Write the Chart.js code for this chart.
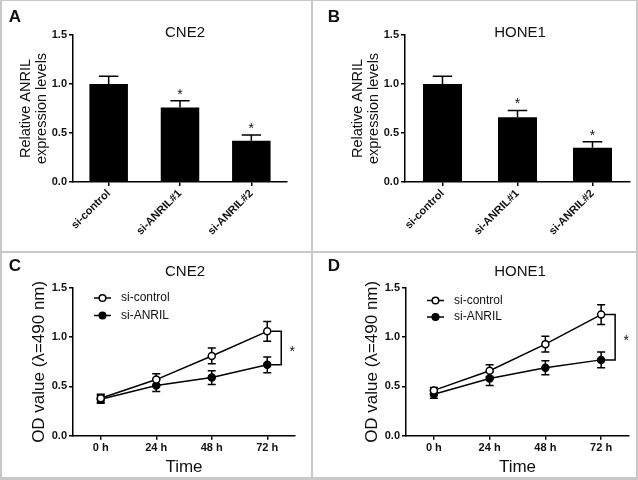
<!DOCTYPE html>
<html>
<head>
<meta charset="utf-8">
<script src="https://cdn.jsdelivr.net/npm/chart.js@4.4.1/dist/chart.umd.min.js"></script>
<style>
body { margin: 0; background: #fff; }
#fig { position: relative; width: 638px; height: 480px; background: #fff; overflow: hidden; }
#fig canvas { position: absolute; }
.rule { position: absolute; background: #c8c8c8; z-index: 2; }
</style>
</head>
<body>
<div id="fig">
  <canvas id="chartA" width="312" height="252" style="left:0;top:0"></canvas>
  <canvas id="chartB" width="325" height="252" style="left:313px;top:0"></canvas>
  <canvas id="chartC" width="312" height="227" style="left:0;top:253px"></canvas>
  <canvas id="chartD" width="325" height="227" style="left:313px;top:253px"></canvas>
  <div class="rule" style="left:0;top:0;width:638px;height:1px"></div>
  <div class="rule" style="left:0;top:0;width:2px;height:480px"></div>
  <div class="rule" style="left:636px;top:0;width:2px;height:480px"></div>
  <div class="rule" style="left:0;top:477px;width:638px;height:3px"></div>
  <div class="rule" style="left:311px;top:0;width:2px;height:480px"></div>
  <div class="rule" style="left:0;top:251px;width:638px;height:2px"></div>
</div>
<script>
// bar panels (A, B)
const barLabels = ['si-control', 'si-ANRIL#1', 'si-ANRIL#2'];
const cne2Bar = [1.00, 0.76, 0.42];
const cne2BarErr = [0.08, 0.07, 0.06];
const cne2BarSig = ['', '*', '*'];
const hone1Bar = [1.00, 0.66, 0.35];
const hone1BarErr = [0.08, 0.07, 0.06];
const hone1BarSig = ['', '*', '*'];

// growth panels (C, D)
const timeLabels = ['0 h', '24 h', '48 h', '72 h'];
const seriesNames = ['si-control', 'si-ANRIL'];
const cne2Control = [0.38, 0.57, 0.81, 1.06];
const cne2ControlErr = [0.04, 0.06, 0.08, 0.10];
const cne2Anril = [0.37, 0.51, 0.59, 0.72];
const cne2AnrilErr = [0.04, 0.06, 0.07, 0.08];
const hone1Control = [0.46, 0.66, 0.93, 1.23];
const hone1ControlErr = [0.03, 0.06, 0.08, 0.10];
const hone1Anril = [0.42, 0.58, 0.69, 0.77];
const hone1AnrilErr = [0.04, 0.07, 0.07, 0.08];

const yTickValues = [0, 0.5, 1.0, 1.5];

const FONT = '"Liberation Sans", Arial, sans-serif';
const INK = '#111';

function yScale(title, size, pad, width) {
    return {
        min: 0,
        max: 1.5,
        afterBuildTicks: s => { s.ticks = yTickValues.map(v => ({ value: v })); },
        afterFit: s => { s.width = width; },
        border: { color: '#000', width: 1.5 },
        grid: { drawOnChartArea: false, color: '#000', lineWidth: 1.5, tickLength: 4 },
        ticks: { color: INK, padding: 2, font: { family: FONT, size: 11, weight: 'bold' }, callback: v => v.toFixed(1) },
        title: { display: true, text: title, color: INK, font: { family: FONT, size: size, lineHeight: 1.07 }, padding: { top: pad, bottom: 0 } }
    };
}

function xScale(height, extra) {
    return Object.assign({
        offset: true,
        afterFit: s => { s.height = height; },
        border: { color: '#000', width: 1.5 },
        grid: { drawOnChartArea: false, offset: false, color: '#000', lineWidth: 1.5, tickLength: 4 }
    }, extra);
}

// panel letter + title
function panelText(p) {
    return {
        id: 'panelText',
        afterDraw(chart) {
            const c = chart.ctx;
            c.save();
            c.fillStyle = INK;
            c.textBaseline = 'middle';
            c.textAlign = 'center';
            c.font = 'bold 17px ' + FONT;
            c.fillText(p.letter, p.letterX, p.letterY);
            c.font = '15px ' + FONT;
            c.fillText(p.title, p.titleX, p.titleY);
            c.restore();
        }
    };
}

function makeBarChart(id, values, errs, sig, p) {
    const errPlugin = {
        id: 'barErr',
        afterDatasetsDraw(chart) {
            const c = chart.ctx;
            const y = chart.scales.y;
            const meta = chart.getDatasetMeta(0);
            c.save();
            c.strokeStyle = '#000';
            c.lineWidth = 1.5;
            meta.data.forEach((bar, i) => {
                const top = y.getPixelForValue(values[i] + errs[i]);
                const half = bar.width / 4;
                c.beginPath();
                c.moveTo(bar.x, bar.y);
                c.lineTo(bar.x, top);
                c.moveTo(bar.x - half, top);
                c.lineTo(bar.x + half, top);
                c.stroke();
                if (sig[i]) {
                    c.fillStyle = INK;
                    c.font = '14px ' + FONT;
                    c.textAlign = 'center';
                    c.textBaseline = 'alphabetic';
                    c.fillText(sig[i], bar.x, top - 2);
                }
            });
            c.restore();
        }
    };
    const canvas = document.getElementById(id);
    return new Chart(canvas.getContext('2d'), {
        type: 'bar',
        data: {
            labels: barLabels,
            datasets: [{ data: values, backgroundColor: '#000', borderWidth: 0, barPercentage: p.barPct, categoryPercentage: 1 }]
        },
        options: {
            responsive: false,
            animation: false,
            layout: { padding: { left: 0, top: 35, right: canvas.width - p.right, bottom: 0 } },
            plugins: { legend: { display: false }, tooltip: { enabled: false } },
            scales: {
                x: xScale(canvas.height - 182, {
                    ticks: { color: INK, padding: 1, autoSkip: false, minRotation: 45, maxRotation: 45, font: { family: FONT, size: 11, weight: 'bold' } }
                }),
                y: yScale(['Relative ANRIL', 'expression levels'], 14.5, p.titlePad, p.left)
            }
        },
        plugins: [errPlugin, panelText(p)]
    });
}

function makeLineChart(id, ctrl, ctrlErr, anril, anrilErr, p) {
    const errs = [ctrlErr, anrilErr];
    const errPlugin = {
        id: 'lineErr',
        beforeDatasetsDraw(chart) {
            const c = chart.ctx;
            const y = chart.scales.y;
            c.save();
            c.strokeStyle = '#000';
            c.lineWidth = 1.5;
            chart.data.datasets.forEach((ds, d) => {
                chart.getDatasetMeta(d).data.forEach((pt, i) => {
                    const hi = y.getPixelForValue(ds.data[i] + errs[d][i]);
                    const lo = y.getPixelForValue(ds.data[i] - errs[d][i]);
                    c.beginPath();
                    c.moveTo(pt.x, hi);
                    c.lineTo(pt.x, lo);
                    c.moveTo(pt.x - 4, hi);
                    c.lineTo(pt.x + 4, hi);
                    c.moveTo(pt.x - 4, lo);
                    c.lineTo(pt.x + 4, lo);
                    c.stroke();
                });
            });
            c.restore();
        },
        afterDatasetsDraw(chart) {
            const c = chart.ctx;
            const area = chart.chartArea;
            c.save();
            // legend
            c.strokeStyle = '#000';
            c.lineWidth = 1.5;
            c.font = '12px ' + FONT;
            c.textBaseline = 'middle';
            c.fillStyle = INK;
            seriesNames.forEach((name, k) => {
                const ly = p.legendY[k];
                const x0 = area.left + 21, x1 = area.left + 38;
                c.beginPath();
                c.moveTo(x0, ly);
                c.lineTo(x1, ly);
                c.stroke();
                c.beginPath();
                c.arc((x0 + x1) / 2, ly, 3.3, 0, Math.PI * 2);
                c.fillStyle = k === 0 ? '#fff' : '#000';
                c.fill();
                c.stroke();
                c.fillStyle = INK;
                c.textAlign = 'left';
                c.fillText(name, area.left + 48, ly);
            });
            // significance bracket at 72 h
            const last = ctrl.length - 1;
            const a = chart.getDatasetMeta(0).data[last];
            const b = chart.getDatasetMeta(1).data[last];
            const bx = a.x + 14;
            c.beginPath();
            c.moveTo(bx - 10, a.y);
            c.lineTo(bx, a.y);
            c.lineTo(bx, b.y);
            c.lineTo(bx - 10, b.y);
            c.stroke();
            c.font = '14px ' + FONT;
            c.textAlign = 'center';
            c.textBaseline = 'alphabetic';
            c.fillText('*', bx + 11, (a.y + b.y) / 2 + 8);
            c.restore();
        }
    };
    const canvas = document.getElementById(id);
    const common = { borderColor: '#000', borderWidth: 1.5, pointRadius: 3.5, pointBorderWidth: 1.5, pointBorderColor: '#000', tension: 0 };
    return new Chart(canvas.getContext('2d'), {
        type: 'line',
        data: {
            labels: timeLabels,
            datasets: [
                Object.assign({ label: seriesNames[0], data: ctrl, pointBackgroundColor: '#fff' }, common),
                Object.assign({ label: seriesNames[1], data: anril, pointBackgroundColor: '#000' }, common)
            ]
        },
        options: {
            responsive: false,
            animation: false,
            layout: { padding: { left: 0, top: 35, right: canvas.width - p.right, bottom: 0 } },
            plugins: { legend: { display: false }, tooltip: { enabled: false } },
            scales: {
                x: xScale(canvas.height - 182.7, {
                    ticks: { color: INK, padding: 2, maxRotation: 0, font: { family: FONT, size: 11, weight: 'bold' } },
                    title: { display: true, text: 'Time', color: INK, font: { family: FONT, size: 17, lineHeight: 1.15 }, padding: { top: 0, bottom: 3 } }
                }),
                y: yScale('OD value (\u03bb=490 nm)', 17, p.titlePad, p.left)
            }
        },
        plugins: [errPlugin, panelText(p)]
    });
}

makeBarChart('chartA', cne2Bar, cne2BarErr, cne2BarSig,
    { left: 73, right: 287, barPct: 0.54, titlePad: 18.5, letter: 'A', letterX: 15, letterY: 17, title: 'CNE2', titleX: 185, titleY: 33 });
makeBarChart('chartB', hone1Bar, hone1BarErr, hone1BarSig,
    { left: 92, right: 317, barPct: 0.52, titlePad: 37.5, letter: 'B', letterX: 21, letterY: 17, title: 'HONE1', titleX: 207, titleY: 33 });
makeLineChart('chartC', cne2Control, cne2ControlErr, cne2Anril, cne2AnrilErr,
    { left: 73, right: 295, titlePad: 30, letter: 'C', letterX: 15, letterY: 13, title: 'CNE2', titleX: 185, titleY: 19, legendY: [45, 62.5] });
makeLineChart('chartD', hone1Control, hone1ControlErr, hone1Anril, hone1AnrilErr,
    { left: 93, right: 316, titlePad: 50, letter: 'D', letterX: 21, letterY: 13, title: 'HONE1', titleX: 207, titleY: 19, legendY: [47.5, 64] });
</script>
</body>
</html>
